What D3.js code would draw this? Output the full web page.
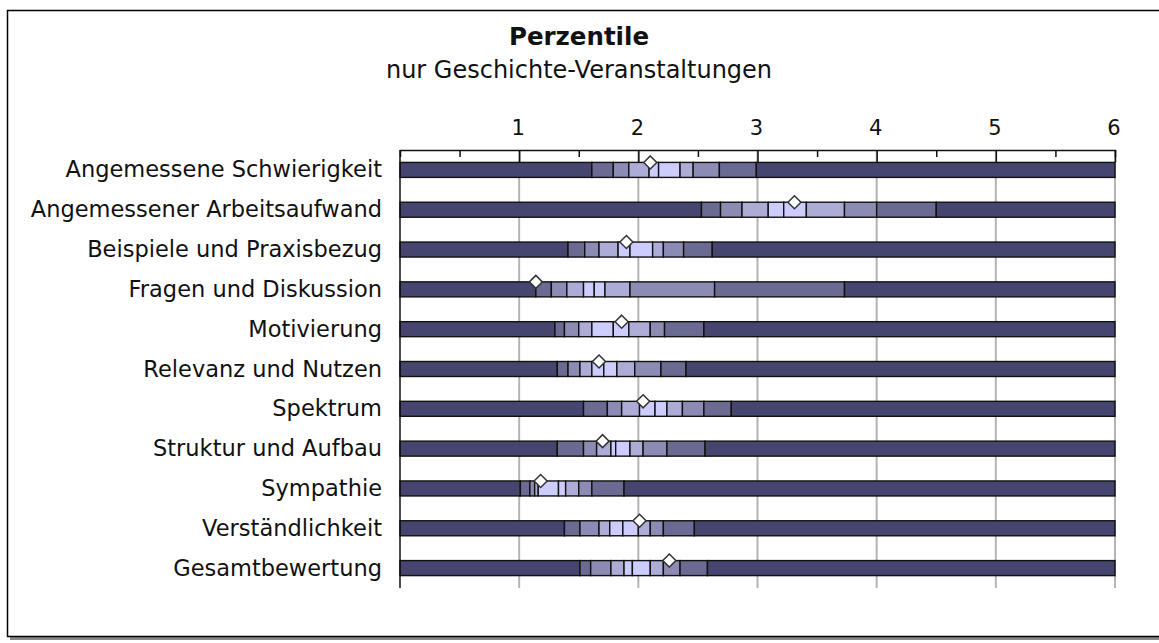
<!DOCTYPE html>
<html lang="de">
<head>
<meta charset="UTF-8">
<title>Perzentile</title>
<script src="https://d3js.org/d3.v7.min.js"></script>
<style>
  body { margin: 0; background: #fff; }
  text { font-family: "DejaVu Sans", Verdana, sans-serif; fill: #111; }
</style>
</head>
<body>
<svg width="1159" height="643"></svg>
<script>
// categories, top to bottom
const categories = [
    'Angemessene Schwierigkeit',
    'Angemessener Arbeitsaufwand',
    'Beispiele und Praxisbezug',
    'Fragen und Diskussion',
    'Motivierung',
    'Relevanz und Nutzen',
    'Spektrum',
    'Struktur und Aufbau',
    'Sympathie',
    'Verständlichkeit',
    'Gesamtbewertung'
];

// 10th .. 90th percentile per category
const deciles = [
    [1.61, 1.79, 1.92, 2.09, 2.17, 2.35, 2.46, 2.68, 2.99],
    [2.53, 2.69, 2.87, 3.09, 3.22, 3.41, 3.73, 4.00, 4.50],
    [1.41, 1.55, 1.67, 1.83, 1.93, 2.12, 2.21, 2.38, 2.62],
    [1.14, 1.27, 1.40, 1.54, 1.63, 1.72, 1.93, 2.64, 3.73],
    [1.30, 1.38, 1.50, 1.61, 1.79, 1.92, 2.10, 2.22, 2.55],
    [1.32, 1.41, 1.51, 1.61, 1.71, 1.82, 1.97, 2.19, 2.40],
    [1.54, 1.74, 1.86, 2.01, 2.14, 2.24, 2.37, 2.55, 2.78],
    [1.32, 1.54, 1.65, 1.77, 1.81, 1.93, 2.04, 2.24, 2.56],
    [1.01, 1.09, 1.13, 1.16, 1.33, 1.39, 1.50, 1.61, 1.88],
    [1.38, 1.51, 1.67, 1.76, 1.87, 2.00, 2.10, 2.21, 2.47],
    [1.51, 1.60, 1.77, 1.88, 1.95, 2.10, 2.21, 2.35, 2.58]
];

// diamond marker (mean)
const means = [2.10, 3.31, 1.90, 1.14, 1.86, 1.67, 2.04, 1.70, 1.18, 2.01, 2.26];

const xTicks = [1, 2, 3, 4, 5, 6];
const xMin = 0, xMax = 6;

// dark at the tails, light in the middle
const shades = ['#45456f', '#6a6a92', '#8b8bb3', '#acacd6', '#ccccff'];
const shadeIndex = [0, 1, 2, 3, 4, 4, 3, 2, 1, 0];

const svg = d3.select('svg');

// frame with shadow
svg.append('rect')
    .attr('x', 10).attr('y', 13).attr('width', 1160).attr('height', 627)
    .attr('fill', '#888');
svg.append('rect')
    .attr('x', 7.5).attr('y', 10.5).attr('width', 1160).attr('height', 626)
    .attr('fill', '#fff').attr('stroke', '#000').attr('stroke-width', 1.5);

// titles
svg.append('text')
    .attr('x', 579).attr('y', 45)
    .attr('text-anchor', 'middle')
    .attr('font-size', '24.5px')
    .attr('font-weight', 'bold')
    .text('Perzentile');
svg.append('text')
    .attr('x', 579).attr('y', 78)
    .attr('text-anchor', 'middle')
    .attr('font-size', '24px')
    .text('nur Geschichte-Veranstaltungen');

const plotTop = 150, plotBottom = 588;
const x = d3.scaleLinear().domain([xMin, xMax]).range([400, 1115]);
const y = d3.scaleBand().domain(categories).range([plotTop, plotBottom]);
const barH = 15;

// gridlines
svg.selectAll('.grid')
    .data(xTicks)
    .enter()
    .append('line')
    .attr('class', 'grid')
    .attr('x1', d => x(d)).attr('x2', d => x(d))
    .attr('y1', plotTop).attr('y2', plotBottom)
    .attr('stroke', '#b4b4b4')
    .attr('stroke-width', 2);

// bars: one rect per percentile band
const rows = svg.selectAll('.row')
    .data(categories)
    .enter()
    .append('g')
    .attr('class', 'row');

rows.each(function(cat, i) {
    const bounds = [xMin, ...deciles[i], xMax];
    const segs = d3.pairs(bounds);
    d3.select(this).selectAll('rect')
        .data(segs)
        .enter()
        .append('rect')
        .attr('x', d => x(d[0]))
        .attr('width', d => x(d[1]) - x(d[0]))
        .attr('y', y(cat) + y.bandwidth() / 2 - barH / 2)
        .attr('height', barH)
        .attr('fill', (d, j) => shades[shadeIndex[j]])
        .attr('stroke', '#111')
        .attr('stroke-width', 1.4);
});

// category labels
svg.selectAll('.label')
    .data(categories)
    .enter()
    .append('text')
    .attr('class', 'label')
    .attr('x', 382)
    .attr('y', d => y(d) + y.bandwidth() / 2 + 7.5)
    .attr('text-anchor', 'end')
    .attr('font-size', '22.5px')
    .text(d => d);

// top axis
const axis = d3.axisTop(x)
    .tickValues(d3.range(0.5, 6.01, 0.5))
    .tickSize(-7)
    .tickFormat('');
const gAxis = svg.append('g')
    .attr('transform', `translate(0,${plotTop})`)
    .call(axis);
gAxis.select('.domain').attr('stroke', '#111').attr('stroke-width', 1.5);
gAxis.selectAll('.tick line').attr('stroke', '#111').attr('stroke-width', 1.5)
    .attr('y2', d => Number.isInteger(d) ? y.bandwidth() / 2 - barH / 2 : 7);

svg.selectAll('.xlab')
    .data(xTicks)
    .enter()
    .append('text')
    .attr('class', 'xlab')
    .attr('x', d => x(d) - 1)
    .attr('y', 135)
    .attr('text-anchor', 'middle')
    .attr('font-size', '21px')
    .text(d => d);

// left axis line
svg.append('line')
    .attr('x1', 400).attr('x2', 400)
    .attr('y1', plotTop).attr('y2', plotBottom)
    .attr('stroke', '#111').attr('stroke-width', 1.5);

// mean diamonds sitting on top edge of each bar
const dSize = 6.5;
svg.selectAll('.mean')
    .data(means)
    .enter()
    .append('path')
    .attr('class', 'mean')
    .attr('transform', (d, i) => `translate(${x(d)},${y(categories[i]) + y.bandwidth() / 2 - barH / 2})`)
    .attr('d', `M0,${-dSize}L${dSize},0L0,${dSize}L${-dSize},0Z`)
    .attr('fill', '#fff')
    .attr('stroke', '#333')
    .attr('stroke-width', 1.5);
</script>
</body>
</html>
